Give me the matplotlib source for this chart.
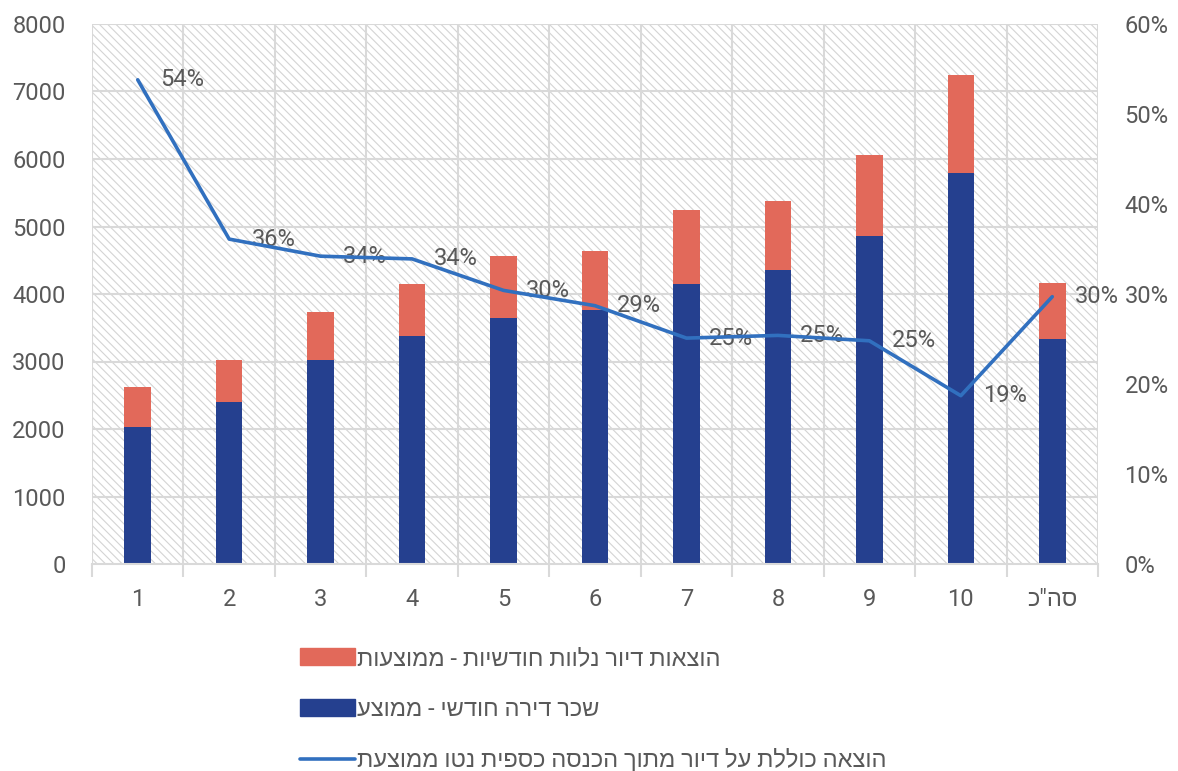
import matplotlib
matplotlib.use('Agg')
import matplotlib.pyplot as plt
import matplotlib.patches as mpatches
from matplotlib.lines import Line2D
from matplotlib.ticker import FuncFormatter
import numpy as np

plt.rcParams['font.family'] = ['Roboto', 'Liberation Sans', 'DejaVu Sans']
plt.rcParams['hatch.linewidth'] = 0.8
plt.rcParams['hatch.color'] = '#d4d4d4'

categories = ['1', '2', '3', '4', '5', '6', '7', '8', '9', '10', 'סה"כ']
rent = [2030, 2400, 3022, 3378, 3644, 3763, 4148, 4355, 4859, 5793, 3333]
extra = [592, 622, 711, 770, 919, 874, 1096, 1023, 1200, 1451, 830]
share = [0.538, 0.361, 0.342, 0.339, 0.304, 0.287, 0.251, 0.254, 0.248, 0.187, 0.297]
share_labels = ['54%', '36%', '34%', '34%', '30%', '29%', '25%', '25%', '25%', '19%', '30%']

label_extra = 'הוצאות דיור נלוות חודשיות - ממוצעות'
label_rent = 'שכר דירה חודשי - ממוצע'
label_share = 'הוצאה כוללת על דיור מתוך הכנסה כספית נטו ממוצעת'


def rtl(s):
    # matplotlib has no bidi support: show Hebrew in visual order
    return s[::-1]


blue = '#25408f'
red = '#e2695a'
line_c = '#3170bf'
grey = '#595959'
grid_c = '#d9d9d9'
fs = 17

fig = plt.figure(figsize=(11.78, 7.71), dpi=100)
ax = fig.add_axes([92 / 1178, 1 - 564 / 771, 1006 / 1178, 540 / 771])

x = np.arange(len(categories))
ax.set_xlim(-0.5, len(categories) - 0.5)
ax.set_ylim(0, 8000)

# hatched plot background
ax.add_patch(mpatches.Rectangle((0, 0), 1, 1, transform=ax.transAxes, facecolor='white',
                                edgecolor='#d4d4d4', hatch='\\\\\\\\', linewidth=0, zorder=0))

for yv in range(1000, 8001, 1000):
    ax.axhline(yv, color=grid_c, lw=1.5, zorder=1)
for xv in np.arange(-0.5, len(categories), 1.0):
    ax.axvline(xv, color=grid_c, lw=1.5, zorder=1)

ax.bar(x, rent, width=0.29, color=blue, zorder=3)
ax.bar(x, extra, width=0.29, bottom=rent, color=red, zorder=3)

for s in ['top', 'right', 'left']:
    ax.spines[s].set_visible(False)
ax.spines['bottom'].set_color(grid_c)
ax.spines['bottom'].set_linewidth(1.5)
ax.spines['bottom'].set_zorder(4)

ax.set_xticks(x)
ax.set_xticklabels([rtl(c) if not c.isdigit() else c for c in categories])
ax.set_xticks(np.arange(-0.5, len(categories), 1.0), minor=True)
ax.tick_params(axis='x', which='major', length=0, pad=17, labelsize=fs, labelcolor=grey)
ax.tick_params(axis='x', which='minor', length=9, width=1.5, color=grid_c, direction='out')
ax.set_yticks(range(0, 8001, 1000))
ax.tick_params(axis='y', length=0, pad=19, labelsize=fs, labelcolor=grey)

ax2 = ax.twinx()
ax2.set_ylim(0, 0.6)
ax2.set_yticks(np.arange(0, 0.61, 0.1))
ax2.yaxis.set_major_formatter(FuncFormatter(lambda v, p: '{:.0f}%'.format(v * 100)))
ax2.tick_params(axis='y', length=0, pad=19, labelsize=fs, labelcolor=grey)
for s in ax2.spines.values():
    s.set_visible(False)
ax2.plot(x, share, color=line_c, lw=2.6, solid_capstyle='round', zorder=5)
for xi, yi, t in zip(x, share, share_labels):
    ax2.annotate(t, (xi, yi), xytext=(16, 0), textcoords='offset points',
                 ha='left', va='center', fontsize=fs, color=grey)

handles = [mpatches.Patch(color=red), mpatches.Patch(color=blue),
           Line2D([0], [0], color=line_c, lw=2.6, solid_capstyle='round')]
labels = [rtl(label_extra), rtl(label_rent), rtl(label_share)]
fig.legend(handles, labels, loc='upper left', bbox_to_anchor=(300 / 1178, 1 - 647 / 771),
           frameon=False, fontsize=fs, labelcolor=grey, handlelength=2.35, handleheight=0.7,
           handletextpad=0.08, labelspacing=1.17, borderpad=0, borderaxespad=0)

fig.savefig('out.png', dpi=100)
